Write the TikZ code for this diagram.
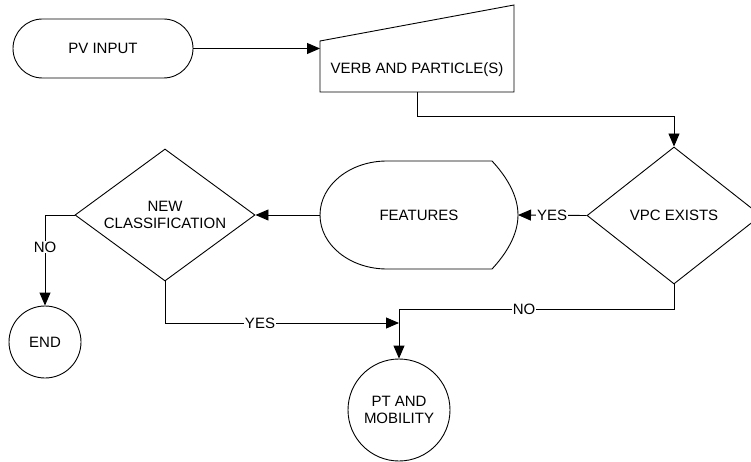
\documentclass[tikz,border=0pt]{standalone}
\usepackage{fontspec}
\setmainfont{Liberation Sans}
\usetikzlibrary{arrows.meta,shapes.geometric}
\begin{document}
\begin{tikzpicture}[x=1pt,y=-1pt,
  line width=0.9pt,
  every node/.style={font=\fontsize{15}{17.5}\selectfont, align=center},
  flow/.style={draw, -{Triangle[length=13pt,width=11pt]}},
  lbl/.style={fill=white, inner sep=1pt},
  term/.style={draw, rounded corners=29.5pt, minimum width=180pt, minimum height=59pt},
  decision/.style={draw, diamond, inner sep=0pt, aspect=1.36},
  stop/.style={draw, circle, inner sep=0pt}
]
\useasboundingbox (0,0) rectangle (751,462);
\clip (0,0) rectangle (751,462);

% start terminator
\node[term] (pv) at (103,48.5) {PV INPUT};

% manual input block
\draw (320,41) -- (514,5) -- (514,92) -- (320,92) -- cycle;
\node (mi) at (417,70) {VERB AND PARTICLE(S)};
\coordinate (mi-in) at (320,48.5);
\coordinate (mi-out) at (417,92);

% decision: does the construction exist
\node[decision, minimum width=174pt, minimum height=137pt] (vpc) at (674,215.5) {VPC EXISTS};

% display block for features
\draw (387,161) -- (492,161)
  .. controls (506,176) and (518,195) .. (518,215)
  .. controls (518,235) and (506,254) .. (492,269)
  -- (387,269)
  .. controls (350,269) and (320,245) .. (320,215)
  .. controls (320,185) and (350,161) .. (387,161) -- cycle;
\node (feat) at (419,215) {FEATURES};
\coordinate (feat-e) at (518,215);
\coordinate (feat-w) at (320,215);

% decision: new classification
\node[decision, minimum width=180pt, minimum height=132pt] (nc) at (165,215) {NEW\\CLASSIFICATION};

% end points
\node[stop, minimum size=72pt] (end) at (45,342) {END};
\node[stop, minimum size=102pt] (pt) at (399,410) {PT AND\\MOBILITY};
\coordinate (join) at (399,323);
\coordinate (split) at (399,309);

% connectors
\draw[flow] (pv.east) -- (mi-in);
\draw[flow] (mi-out) -- ++(0,24) -| (vpc.north);
\draw[flow] (vpc.west) -- (feat-e);
\draw[flow] (feat-w) -- (nc.east);
\draw[flow] (nc.west) -| (end.north);
\draw[flow] (nc.south) |- (join);
\draw (vpc.south) |- (split);
\draw[flow] (split) -- (pt.north);

% connector labels
\node[lbl] at (552,215) {YES};
\node[lbl] at (45,247) {NO};
\node[lbl] at (260,323) {YES};
\node[lbl] at (524,309) {NO};
\end{tikzpicture}
\end{document}
